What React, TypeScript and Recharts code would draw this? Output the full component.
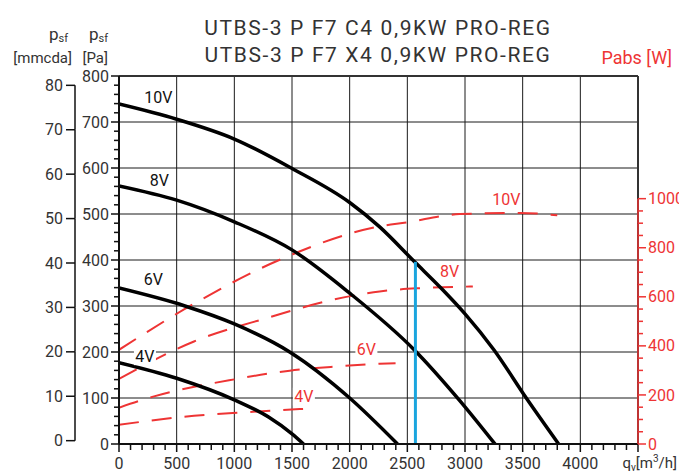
import { ComposedChart, Line, XAxis, YAxis, ReferenceLine, ReferenceDot } from 'recharts';

// static pressure curves per control voltage, q [m3/h] -> p [Pa]
const P_10V = [
  { q: 0, p: 739 }, { q: 500, p: 706 }, { q: 1000, p: 663 }, { q: 1500, p: 599 },
  { q: 2000, p: 525 }, { q: 2260, p: 472 }, { q: 2563, p: 396 }, { q: 2800, p: 337 },
  { q: 3000, p: 283 }, { q: 3250, p: 205 }, { q: 3531, p: 100 }, { q: 3812, p: 0 },
];
const P_8V = [
  { q: 0, p: 561 }, { q: 500, p: 530 }, { q: 1000, p: 483 }, { q: 1500, p: 422 },
  { q: 2000, p: 328 }, { q: 2563, p: 204 }, { q: 2949, p: 96 }, { q: 3260, p: 0 },
];
const P_6V = [
  { q: 0, p: 339 }, { q: 572, p: 300 }, { q: 1000, p: 261 }, { q: 1480, p: 200 },
  { q: 2000, p: 100 }, { q: 2415, p: 0 },
];
const P_4V = [
  { q: 0, p: 177 }, { q: 500, p: 143 }, { q: 1000, p: 96 }, { q: 1300, p: 58 },
  { q: 1500, p: 22 }, { q: 1600, p: 0 },
];

// absorbed power per control voltage, q [m3/h] -> w [W]
const W_10V = [
  { q: 0, w: 384 }, { q: 658, w: 574 }, { q: 1394, w: 751 }, { q: 2260, w: 887 },
  { q: 2491, w: 903 }, { q: 2952, w: 937 }, { q: 3472, w: 942 }, { q: 3800, w: 932 },
];
const W_8V = [
  { q: 0, w: 265 }, { q: 650, w: 418 }, { q: 1279, w: 513 }, { q: 1856, w: 588 },
  { q: 2260, w: 622 }, { q: 2606, w: 635 }, { q: 3068, w: 642 },
];
const W_6V = [
  { q: 0, w: 148 }, { q: 296, w: 193 }, { q: 1019, w: 265 }, { q: 1480, w: 299 },
  { q: 1856, w: 315 }, { q: 2260, w: 327 }, { q: 2398, w: 329 },
];
const W_4V = [
  { q: 0, w: 78 }, { q: 557, w: 111 }, { q: 1077, w: 129 }, { q: 1596, w: 143 },
];

const PRESSURE_TAGS = [
  { text: '10V', q: 341, p: 754 },
  { text: '8V', q: 349, p: 572 },
  { text: '6V', q: 297, p: 358 },
  { text: '4V', q: 225, p: 191 },
];
const POWER_TAGS = [
  { text: '10V', q: 3358, w: 999 },
  { text: '8V', q: 2867, w: 703 },
  { text: '6V', q: 2145, w: 384 },
  { text: '4V', q: 1603, w: 193 },
];

// working point marker
const DUTY = { q: 2570, p: 396 };

const FLOW_TICKS = Array.from({ length: 46 }, (_, i) => i * 100);
const FLOW_GRID = [500, 1000, 1500, 2000, 2500, 3000, 3500, 4000];
const PA_TICKS = Array.from({ length: 41 }, (_, i) => i * 20);
const PA_GRID = [100, 200, 300, 400, 500, 600, 700];
const MM_TICKS = [0, 10, 20, 30, 40, 50, 60, 70, 80];
const W_TICKS = Array.from({ length: 21 }, (_, i) => i * 50);

const TITLE = ['UTBS-3 P F7 C4 0,9KW PRO-REG', 'UTBS-3 P F7 X4 0,9KW PRO-REG'];

const FONT = 'Roboto, sans-serif';
const INK = '#333';
const RED = '#ee3434';
const PLOT_H = 368;
const MM_DOMAIN = [-0.75, 82.1];
const W_MAX = 1500;

const FlowTick = ({ x, y, payload }: any) => {
  const v = payload.value;
  const major = v % 500 === 0;
  return (
    <g>
      <line x1={x} x2={x} y1={y} y2={y + (major ? 8 : 6)} stroke="#111" strokeWidth={1.5} />
      {major && v < 4500 && (
        <text x={x} y={y + 25} textAnchor="middle" fill={INK} fontSize={16} fontFamily={FONT}>{v}</text>
      )}
    </g>
  );
};

const PaTick = ({ x, y, payload }: any) => {
  const v = payload.value;
  const major = v % 100 === 0;
  return (
    <g>
      <line x1={x - (major ? 8 : 5)} x2={x} y1={y} y2={y} stroke="#111" strokeWidth={1.5} />
      {major && (
        <text x={x - 10} y={y} dy="0.35em" textAnchor="end" fill={INK} fontSize={16} fontFamily={FONT}>{v}</text>
      )}
    </g>
  );
};

const MmTick = ({ x, y, payload }: any) => {
  const v = payload.value;
  const step = (PLOT_H * 10) / (MM_DOMAIN[1] - MM_DOMAIN[0]);
  return (
    <g>
      <line x1={x - 9} x2={x} y1={y} y2={y} stroke="#111" strokeWidth={1.5} />
      {v > 0 && <line x1={x} x2={x} y1={y} y2={y + step} stroke="#111" strokeWidth={1.5} />}
      <text x={x - 12} y={y} dy="0.35em" textAnchor="end" fill={INK} fontSize={16} fontFamily={FONT}>{v}</text>
    </g>
  );
};

const WTick = ({ x, y, payload }: any) => {
  const v = payload.value;
  const major = v % 200 === 0;
  const step = (PLOT_H * 50) / W_MAX;
  return (
    <g>
      <line x1={x} x2={x + (major ? 8 : 5)} y1={y} y2={y} stroke={RED} strokeWidth={1.5} />
      {v > 0 && <line x1={x} x2={x} y1={y} y2={y + step} stroke={RED} strokeWidth={1.5} />}
      {major && (
        <text x={x + 10} y={y} dy="0.35em" textAnchor="start" fill={RED} fontSize={16} fontFamily={FONT}>{v}</text>
      )}
    </g>
  );
};

const Tag = ({ cx, cy, text, color }: any) => {
  const w = text.length * 9 + 4;
  return (
    <g>
      <rect x={cx - w / 2} y={cy - 9} width={w} height={18} fill="#fff" />
      <text x={cx} y={cy} dy="0.35em" textAnchor="middle" fill={color} fontSize={16} fontFamily={FONT}>{text}</text>
    </g>
  );
};

const pressureLines = [P_10V, P_8V, P_6V, P_4V];
const powerLines = [W_10V, W_8V, W_6V, W_4V];

export default function App() {
  return (
    <div style={{ position: 'relative', width: 679, height: 472, background: '#fff' }}>
      <style>{'body{margin:0}'}</style>
      <ComposedChart width={679} height={472} margin={{ top: 76, right: 0, bottom: 0, left: 30 }}>
        <XAxis
          xAxisId="q" type="number" dataKey="q" domain={[0, 4500]} allowDataOverflow
          ticks={FLOW_TICKS} interval={0} tick={<FlowTick />} tickLine={false} tickSize={0} tickMargin={0}
          axisLine={{ stroke: '#111', strokeWidth: 2 }} height={28}
        />
        <YAxis
          yAxisId="a_pa" type="number" domain={[0, 800]} allowDataOverflow ticks={PA_TICKS} interval={0}
          tick={<PaTick />} tickLine={false} tickSize={0} tickMargin={0}
          axisLine={{ stroke: '#111', strokeWidth: 2 }} width={44}
        />
        <YAxis
          yAxisId="b_mm" type="number" domain={MM_DOMAIN} allowDataOverflow ticks={MM_TICKS} interval={0}
          tick={<MmTick />} tickLine={false} tickSize={0} tickMargin={0} axisLine={false} width={45}
        />
        <YAxis
          yAxisId="w" orientation="right" type="number" domain={[0, W_MAX]} allowDataOverflow ticks={W_TICKS}
          interval={0} tick={<WTick />} tickLine={false} tickSize={0} tickMargin={0} axisLine={false} width={41}
        />

        {FLOW_GRID.map((v) => (
          <ReferenceLine key={`gx${v}`} xAxisId="q" yAxisId="a_pa" x={v} stroke="#1a1a1a" strokeWidth={1} />
        ))}
        {PA_GRID.map((v) => (
          <ReferenceLine key={`gy${v}`} xAxisId="q" yAxisId="a_pa" y={v} stroke="#1a1a1a" strokeWidth={1} />
        ))}
        <ReferenceLine xAxisId="q" yAxisId="a_pa" y={800} stroke="#333" strokeWidth={2} />
        <ReferenceLine xAxisId="q" yAxisId="a_pa" x={4500} stroke="#333" strokeWidth={2} />

        {powerLines.map((d, i) => (
          <Line
            key={`w${i}`} xAxisId="q" yAxisId="w" data={d} dataKey="w" type="monotone"
            stroke={RED} strokeWidth={2} strokeDasharray="20 13" dot={false} isAnimationActive={false}
          />
        ))}
        {pressureLines.map((d, i) => (
          <Line
            key={`p${i}`} xAxisId="q" yAxisId="a_pa" data={d} dataKey="p" type="monotone"
            stroke="#000" strokeWidth={3.5} dot={false} isAnimationActive={false}
          />
        ))}

        <ReferenceLine
          xAxisId="q" yAxisId="a_pa" stroke="#1aa5de" strokeWidth={3}
          segment={[{ x: DUTY.q, y: 0 }, { x: DUTY.q, y: DUTY.p }]}
        />

        {PRESSURE_TAGS.map((t) => (
          <ReferenceDot
            key={`tp${t.text}`} xAxisId="q" yAxisId="a_pa" x={t.q} y={t.p} r={0}
            shape={(props: any) => <Tag {...props} text={t.text} color="#111" />}
          />
        ))}
        {POWER_TAGS.map((t) => (
          <ReferenceDot
            key={`tw${t.text}`} xAxisId="q" yAxisId="w" x={t.q} y={t.w} r={0}
            shape={(props: any) => <Tag {...props} text={t.text} color={RED} />}
          />
        ))}
      </ComposedChart>

      <svg width={679} height={472} style={{ position: 'absolute', left: 0, top: 0, pointerEvents: 'none' }}>
        <g fontFamily={FONT} fill={INK}>
          <text x={378} y={35} textAnchor="middle" fontSize={21} letterSpacing={1.6}>{TITLE[0]}</text>
          <text x={378} y={62} textAnchor="middle" fontSize={21} letterSpacing={1.6}>{TITLE[1]}</text>
          <text x={68} y={40} textAnchor="end" fontSize={17}>p<tspan fontSize={11} dy={2}>sf</tspan></text>
          <text x={108} y={40} textAnchor="end" fontSize={17}>p<tspan fontSize={11} dy={2}>sf</tspan></text>
          <text x={72} y={63} textAnchor="end" fontSize={15}>[mmcda]</text>
          <text x={108} y={63} textAnchor="end" fontSize={15}>[Pa]</text>
          <text x={677} y={468} textAnchor="end" fontSize={15}>
            q<tspan fontSize={10} dy={3}>v</tspan><tspan dy={-3}>[m</tspan><tspan fontSize={10} dy={-6}>3</tspan><tspan dy={6}>/h]</tspan>
          </text>
        </g>
        <text x={672} y={64} textAnchor="end" fontSize={18} fontFamily={FONT} fill={RED}>Pabs [W]</text>
      </svg>
    </div>
  );
}
